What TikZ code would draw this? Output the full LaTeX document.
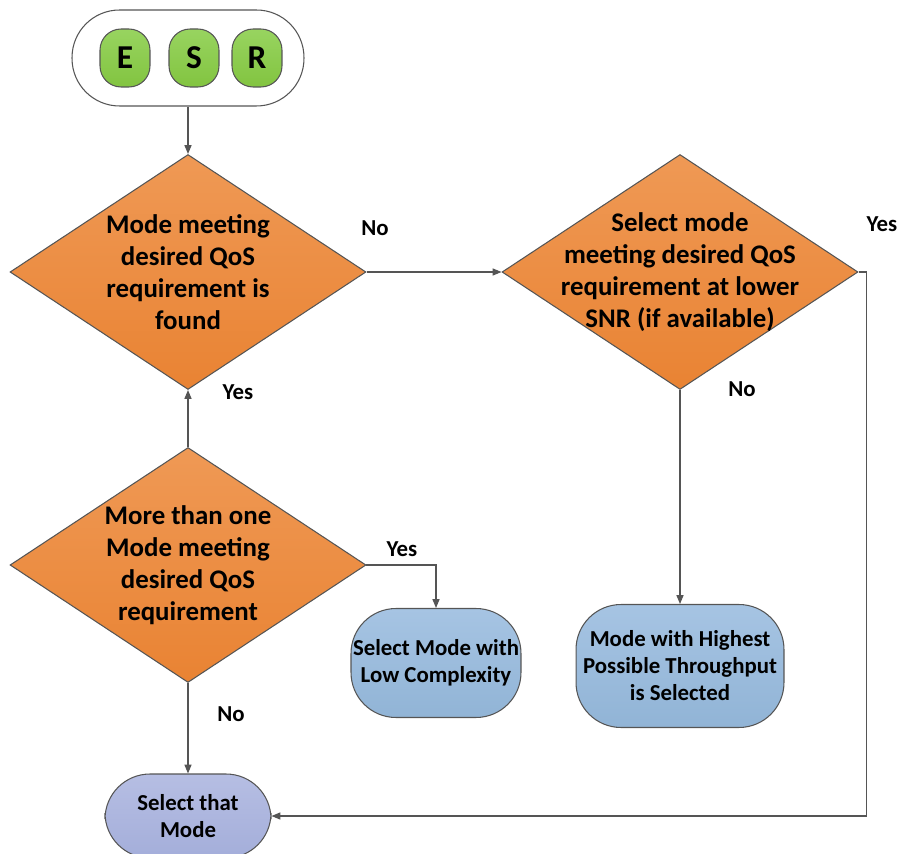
\documentclass[tikz,border=0pt]{standalone}
\usepackage{fontspec}
\setmainfont{Carlito}
\usetikzlibrary{shapes.geometric,arrows.meta}
\definecolor{lineg}{HTML}{555555}
\begin{document}
\begin{tikzpicture}[x=0.02cm, y=-0.02cm,
    >={Triangle[length=5pt,width=4pt]},
    every path/.style={draw=lineg, line width=0.6pt},
    decision/.style={diamond, aspect=1.515, inner sep=0pt, minimum width=7.12cm, minimum height=4.7cm,
        top color={rgb,255:red,239;green,153;blue,85}, bottom color={rgb,255:red,233;green,131;blue,51}},
    dtext/.style={align=center, font=\fontsize{15.3}{18.2}\selectfont\bfseries},
    result/.style={rounded corners=0.9cm, inner sep=0pt, align=center, font=\fontsize{13}{15.4}\selectfont\bfseries,
        top color={rgb,255:red,166;green,196;blue,227}, bottom color={rgb,255:red,145;green,180;blue,214}},
    pill/.style={rounded corners=12pt, minimum width=1cm, minimum height=1.16cm, font=\fontsize{19}{22}\selectfont\bfseries,
        top color={rgb,255:red,152;green,212;blue,96}, bottom color={rgb,255:red,130;green,196;blue,64}},
    lbl/.style={font=\fontsize{13}{15}\selectfont\bfseries, draw=none}
]
\useasboundingbox[draw=none] (0,0) rectangle (902,854);

\node[draw, rounded corners=0.95cm, minimum width=4.64cm, minimum height=1.92cm] (term) at (188,58) {};
\node[pill, draw] (e) at (125,58) {E};
\node[pill, draw] (s) at (194,58) {S};
\node[pill, draw] (r) at (257,58) {R};

\node[decision, draw, label={[dtext]center:Mode meeting\\desired QoS\\requirement is\\found}] (found) at (188,272) {};
\node[decision, draw, label={[dtext]center:Select mode\\meeting desired QoS\\requirement at lower\\SNR (if available)}] (lower) at (680,272) {};
\node[decision, draw, label={[dtext]center:More than one\\Mode meeting\\desired QoS\\requirement}] (more) at (188,565) {};

\node[result, draw, minimum width=3.4cm, minimum height=2.18cm] (low) at (436,663) {Select Mode with\\Low Complexity};
\node[result, draw, minimum width=4.16cm, minimum height=2.46cm] (high) at (680,666) {Mode with Highest\\Possible Throughput\\is Selected};
\node[result, draw, minimum width=3.32cm, minimum height=1.68cm,
    top color={rgb,255:red,182;green,190;blue,227}, bottom color={rgb,255:red,164;green,174;blue,218}] (that) at (188,816) {Select that\\Mode};

\draw[->] (term) -- (found);
\draw[->] (found) -- (lower);
\draw[->] (lower.east) -- ++(8,0) |- (that.east);
\draw[->] (lower) -- (high);
\draw[->] (more) -- (found);
\draw[->] (more.east) -| (low.north);
\draw[->] (more) -- (that);

\node[lbl] (no1) at (375,228) {No};
\node[lbl] (yes1) at (882,224) {Yes};
\node[lbl] (no2) at (742,389) {No};
\node[lbl] (yes2) at (238,392) {Yes};
\node[lbl] (yes3) at (402,549) {Yes};
\node[lbl] (no3) at (231,714) {No};
\end{tikzpicture}
\end{document}
